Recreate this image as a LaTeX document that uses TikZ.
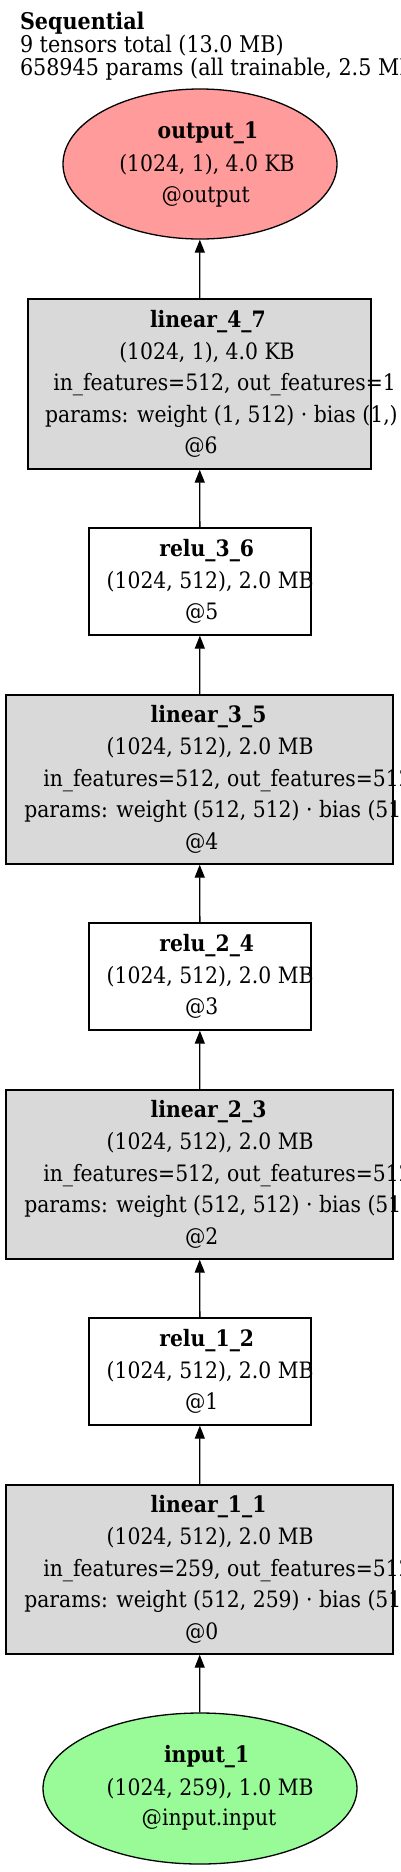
\documentclass[tikz,border=0pt]{standalone}
\usepackage{fontspec}
\setmainfont{DejaVu Serif}[FakeStretch=0.9]
\usetikzlibrary{shapes.geometric,arrows.meta}
\definecolor{outfill}{HTML}{FF9B9B}
\definecolor{infill}{HTML}{98FB98}
\definecolor{linfill}{HTML}{D9D9D9}
\tikzset{
  txt/.style={anchor=base west, inner sep=0pt, outer sep=0pt, font=\fontsize{22.6}{27}\selectfont},
  txtb/.style={txt, font=\fontsize{22.6}{27}\selectfont\bfseries},
  ttl/.style={anchor=base west, inner sep=0pt, outer sep=0pt, font=\fontsize{23}{27}\selectfont},
  ttlb/.style={ttl, font=\fontsize{23}{27}\selectfont\bfseries},
  linbox/.style={draw=black, line width=1.3pt, fill=linfill, rectangle, inner sep=0pt, minimum width=387pt, minimum height=169pt},
  relubox/.style={draw=black, line width=1.3pt, fill=white, rectangle, inner sep=0pt, minimum width=222pt, minimum height=107pt},
  ell/.style={draw=black, line width=1.3pt, ellipse, inner sep=0pt},
  conn/.style={line width=1.3pt, -{Triangle[length=13pt,width=10pt]}},
}
\begin{document}
\begin{tikzpicture}[x=1pt,y=-1pt]
\useasboundingbox (0,0) rectangle (400,1872);
\fill[white] (0,0) rectangle (400,1872);
\clip (0,0) rectangle (400,1872);
% title
\node[ttlb] (t1) at (20,29) {Sequential};
\node[ttl] (t2) at (20,52.5) {9 tensors total (13.0 MB)};
\node[ttl] (t3) at (20,75.5) {658945 params (all trainable, 2.5 MB)};
% shapes
\node[ell, fill=outfill, minimum width=274pt, minimum height=150pt] (out) at (200,164) {};
\node[linbox, minimum width=343pt, minimum height=170pt] (l47) at (199.5,384) {};
\node[relubox] (r36) at (200,581.5) {};
\node[linbox] (l35) at (199.5,779.5) {};
\node[relubox] (r24) at (200,976.5) {};
\node[linbox] (l23) at (199.5,1174.5) {};
\node[relubox] (r12) at (200,1371.5) {};
\node[linbox] (l11) at (199.5,1569.5) {};
\node[ell, fill=infill, minimum width=314pt, minimum height=151pt] (in) at (200,1788.5) {};
% connectors
\draw[conn] (in) -- (l11);
\draw[conn] (l11) -- (r12);
\draw[conn] (r12) -- (l23);
\draw[conn] (l23) -- (r24);
\draw[conn] (r24) -- (l35);
\draw[conn] (l35) -- (r36);
\draw[conn] (r36) -- (l47);
\draw[conn] (l47) -- (out);
% output text
\node[txtb] (outa) at (157.7,138.5) {output\_1};
\node[txt] (outb) at (119.3,171) {(1024, 1), 4.0 KB};
\node[txt] (outc) at (161.7,202) {@output};
% linear_4_7
\node[txtb] (l47a) at (150,327) {linear\_4\_7};
\node[txt] (l47b) at (119.3,359) {(1024, 1), 4.0 KB};
\node[txt] (l47c) at (53.3,390.5) {in\_features=512, out\_features=1};
\node[txt] (l47d) at (45,422) {params: weight (1, 512) · bias (1,)};
\node[txt] (l47e) at (184.3,453.5) {@6};
% relu_3_6
\node[txtb] (r36a) at (159.3,556.5) {relu\_3\_6};
\node[txt] (r36b) at (106.7,588) {(1024, 512), 2.0 MB};
\node[txt] (r36c) at (185,619.5) {@5};
% linear_3_5
\node[txtb] (l35a) at (150.7,722.5) {linear\_3\_5};
\node[txt] (l35b) at (106.7,754.5) {(1024, 512), 2.0 MB};
\node[txt] (l35c) at (43.3,786) {in\_features=512, out\_features=512};
\node[txt] (l35d) at (24.3,817.5) {params: weight (512, 512) · bias (512,)};
\node[txt] (l35e) at (185,849) {@4};
% relu_2_4
\node[txtb] (r24a) at (159.3,951.5) {relu\_2\_4};
\node[txt] (r24b) at (106.7,983) {(1024, 512), 2.0 MB};
\node[txt] (r24c) at (185,1014.5) {@3};
% linear_2_3
\node[txtb] (l23a) at (150.7,1117.5) {linear\_2\_3};
\node[txt] (l23b) at (106.7,1149.5) {(1024, 512), 2.0 MB};
\node[txt] (l23c) at (43.3,1181) {in\_features=512, out\_features=512};
\node[txt] (l23d) at (24.3,1212.5) {params: weight (512, 512) · bias (512,)};
\node[txt] (l23e) at (185,1244) {@2};
% relu_1_2
\node[txtb] (r12a) at (159.3,1346.5) {relu\_1\_2};
\node[txt] (r12b) at (106.7,1378) {(1024, 512), 2.0 MB};
\node[txt] (r12c) at (185,1409.5) {@1};
% linear_1_1
\node[txtb] (l11a) at (150.7,1512.5) {linear\_1\_1};
\node[txt] (l11b) at (106.7,1544.5) {(1024, 512), 2.0 MB};
\node[txt] (l11c) at (43.3,1576) {in\_features=259, out\_features=512};
\node[txt] (l11d) at (24.3,1607.5) {params: weight (512, 259) · bias (512,)};
\node[txt] (l11e) at (185,1639) {@0};
% input text
\node[txtb] (ina) at (164,1762.5) {input\_1};
\node[txt] (inb) at (106.7,1795) {(1024, 259), 1.0 MB};
\node[txt] (inc) at (141.7,1825.5) {@input.input};
\end{tikzpicture}
\end{document}
